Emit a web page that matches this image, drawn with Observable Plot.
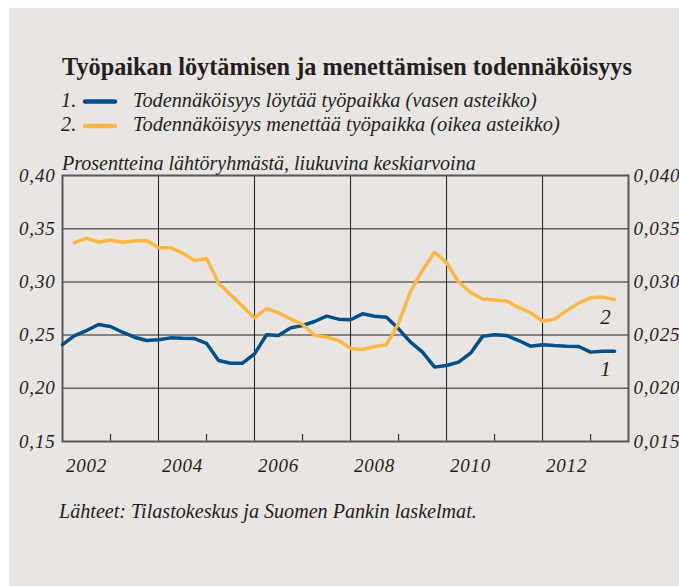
<!DOCTYPE html>
<html><head><meta charset="utf-8">
<script src="https://cdn.jsdelivr.net/npm/d3@7"></script>
<script src="https://cdn.jsdelivr.net/npm/@observablehq/plot@0.6"></script>
<style>
html,body{margin:0;padding:0;background:#fff;}
#wrap{position:relative;width:679px;height:586px;overflow:hidden;background:#fff;}
#bg{position:absolute;left:9px;top:8px;right:0;bottom:0;background:#e9e5e2;}
#chart,#overlay{position:absolute;left:0;top:0;}
#chart g[aria-label$="tick label"] text{letter-spacing:0.8px;}
</style></head><body>
<div id="wrap"><div id="bg"></div><div id="chart"></div></div>
<script>
// ---- data ----
const quarters = ["2002Q1","2002Q2","2002Q3","2002Q4","2003Q1","2003Q2","2003Q3","2003Q4",
  "2004Q1","2004Q2","2004Q3","2004Q4","2005Q1","2005Q2","2005Q3","2005Q4",
  "2006Q1","2006Q2","2006Q3","2006Q4","2007Q1","2007Q2","2007Q3","2007Q4",
  "2008Q1","2008Q2","2008Q3","2008Q4","2009Q1","2009Q2","2009Q3","2009Q4",
  "2010Q1","2010Q2","2010Q3","2010Q4","2011Q1","2011Q2","2011Q3","2011Q4",
  "2012Q1","2012Q2","2012Q3","2012Q4","2013Q1","2013Q2","2013Q3"];
// 1. probability of finding a job (left scale)
const findJob = [0.241,0.2496,0.2543,0.260,0.2581,0.2527,0.248,0.2449,
  0.2456,0.2474,0.247,0.2468,0.2423,0.2261,0.2236,0.2236,
  0.2324,0.2503,0.2496,0.2568,0.2590,0.2628,0.2678,0.265,
  0.2644,0.270,0.2678,0.2668,0.2559,0.2434,0.234,0.2199,
  0.2214,0.2246,0.233,0.2488,0.2503,0.2496,0.2449,0.2396,
  0.2409,0.2402,0.2396,0.2393,0.234,0.2349,0.2349];
// 2. probability of losing a job (right scale)
const loseJob = [null,0.03369,0.03412,0.03373,0.03393,0.03373,0.03385,0.0339,
  0.03322,0.0332,0.03272,0.0320,0.0322,0.0299,0.0288,0.0277,
  0.0266,0.0275,0.0271,0.02653,0.0260,0.0250,0.0248,0.0245,
  0.02375,0.02365,0.0239,0.0241,0.0261,0.0291,0.0311,0.0328,
  0.0318,0.0300,0.0290,0.0284,0.0283,0.0282,0.0276,0.0271,
  0.0263,0.0265,0.0273,0.0280,0.0285,0.02857,0.02835];
const leftTicks = [0.15,0.20,0.25,0.30,0.35,0.40];
const leftTickLabels = ["0,15","0,20","0,25","0,30","0,35","0,40"];
const rightTickLabels = ["0,015","0,020","0,025","0,030","0,035","0,040"];
const gridLevels = [0.20,0.25,0.30,0.35];
const yearLabels = [2002,2004,2006,2008,2010,2012];
const gridYears = [2004,2006,2008,2010,2012];
const minorYears = [2003,2005,2007,2009,2011,2013];

const titleText = "Työpaikan löytämisen ja menettämisen todennäköisyys";
const legend1 = "Todennäköisyys löytää työpaikka (vasen asteikko)";
const legend2 = "Todennäköisyys menettää työpaikka (oikea asteikko)";
const subtitleText = "Prosentteina lähtöryhmästä, liukuvina keskiarvoina";
const captionText = "Lähteet: Tilastokeskus ja Suomen Pankin laskelmat.";

const BLUE = "#00508c", YELLOW = "#fdb843", INK = "#231f20";
const TICK_FONT = 19;

// ---- build ----
const toYear = q => +q.slice(0,4) + (+q.slice(5)-1)/4;
const rightToLeft = v => 0.15 + (v - 0.015) * 10;
const blueData = quarters.map((q,i)=>({t: toYear(q), v: findJob[i]}));
const yellowData = quarters.map((q,i)=>({t: toYear(q), v: loseJob[i]}))
  .filter(d => d.v != null).map(d => ({t: d.t, v: rightToLeft(d.v)}));

const chart = Plot.plot({
  width: 679, height: 586,
  marginLeft: 62, marginRight: 51, marginTop: 175, marginBottom: 145,
  style: {background: "transparent", fontFamily: "'Liberation Serif', serif", fontStyle: "italic", fontSize: TICK_FONT + "px", color: INK},
  x: {domain: [2002, 2013.79]},
  y: {domain: [0.15, 0.40]},
  marks: [
    Plot.ruleY(gridLevels, {stroke: "#626262", strokeWidth: 1.5}),
    Plot.ruleX(gridYears, {stroke: "#1e1e1e", strokeWidth: 1}),
    Plot.axisX(minorYears, {tickSize: 7, dy: -7, tickFormat: () => "", label: null, stroke: "#333", strokeWidth: 1.2}),
    Plot.frame({stroke: "#58595b", strokeWidth: 2}),
    Plot.axisX(yearLabels.map(y => y + 0.5), {tickSize: 0, tickPadding: 17, fontSize: TICK_FONT, tickFormat: d => String(Math.floor(d)), label: null, fill: INK}),
    Plot.axisY(leftTicks, {anchor: "left", tickSize: 0, tickPadding: 7, fontSize: TICK_FONT, tickFormat: (d,i) => leftTickLabels[i], label: null, fill: INK}),
    Plot.axisY(leftTicks, {anchor: "right", tickSize: 0, tickPadding: 5, fontSize: TICK_FONT, tickFormat: (d,i) => rightTickLabels[i], textAnchor: "start", label: null, fill: INK}),
    Plot.line(blueData, {x: "t", y: "v", stroke: BLUE, strokeWidth: 3.5, strokeLinejoin: "miter"}),
    Plot.line(yellowData, {x: "t", y: "v", stroke: YELLOW, strokeWidth: 3.5, strokeLinejoin: "miter"}),
    Plot.text([blueData[blueData.length-1]], {x: "t", y: "v", text: () => "1", dx: -9, dy: 18, fontSize: 21, fill: INK}),
    Plot.text([yellowData[yellowData.length-1]], {x: "t", y: "v", text: () => "2", dx: -9, dy: 18, fontSize: 21, fill: INK})
  ]
});
document.getElementById("chart").appendChild(chart);

// ---- overlay texts (title, legend, subtitle, caption) ----
const ctx = document.createElement("canvas").getContext("2d");
function fitSize(text, style, weight, target) {
  ctx.font = `${style} ${weight} 100px 'Liberation Serif'`;
  return 100 * target / ctx.measureText(text).width;
}
const svg = d3.select("#wrap").append("svg").attr("id","overlay")
  .attr("width",679).attr("height",586)
  .style("font-family","'Liberation Serif', serif").style("fill",INK);
function addText(text, x, y, style, weight, size) {
  svg.append("text").attr("x",x).attr("y",y)
    .style("font-style",style).style("font-weight",weight)
    .style("font-size", size + "px").text(text);
}
const legendSize = fitSize(legend1, "italic", "normal", 404);
addText(titleText, 62, 75, "normal", "bold", fitSize(titleText, "normal", "bold", 570));
addText("1.", 61, 107, "italic", "normal", legendSize);
addText("2.", 61, 131, "italic", "normal", legendSize);
addText(legend1, 133, 107, "italic", "normal", legendSize);
addText(legend2, 133, 131, "italic", "normal", fitSize(legend2, "italic", "normal", 427));
addText(subtitleText, 62, 170, "italic", "normal", fitSize(subtitleText, "italic", "normal", 414));
addText(captionText, 59, 518, "italic", "normal", fitSize(captionText, "italic", "normal", 418));
[[BLUE,101.5],[YELLOW,126]].forEach(([c,y]) => {
  svg.append("line").attr("x1",85).attr("x2",115).attr("y1",y).attr("y2",y)
    .attr("stroke",c).attr("stroke-width",4.5).attr("stroke-linecap","round");
});
</script>
</body></html>
